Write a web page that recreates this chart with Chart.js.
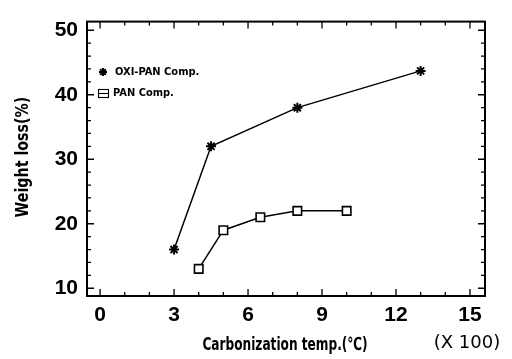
<!DOCTYPE html>
<html>
<head>
<meta charset="utf-8">
<script src="https://cdn.jsdelivr.net/npm/chart.js@4/dist/chart.umd.min.js"></script>
<style>
  html, body { margin: 0; padding: 0; background: #fff; }
  canvas { display: block; }
</style>
</head>
<body>
<canvas id="myChart" width="512" height="359"></canvas>
<script>
// data
const oxiTemps = [3, 4.5, 8, 13];
const oxiLoss = [16, 32, 38, 43.7];
const panTemps = [4, 5, 6.5, 8, 10];
const panLoss = [13, 19, 21, 22, 22];

const xTicks = [0, 3, 6, 9, 12, 15];
const yTicks = [10, 20, 30, 40, 50];
const seriesNames = ["OXI-PAN Comp.", "PAN Comp."];
const xTitle = "Carbonization temp.(℃)";
const yTitle = "Weight loss(%)";

const narrow = "'DejaVu Sans Condensed', 'DejaVu Sans', sans-serif";
const tickFont = "'Liberation Sans', Arial, sans-serif";

function toPoints(xs, ys) {
  return xs.map((x, i) => ({ x: x, y: ys[i] }));
}

// text squeezed sideways, the figure uses a condensed face
function squeezedText(ctx, text, x, y, font, sx, rot) {
  ctx.save();
  ctx.translate(x, y);
  ctx.rotate(rot);
  ctx.scale(sx, 1);
  ctx.font = font;
  ctx.textAlign = "center";
  ctx.textBaseline = "middle";
  ctx.fillStyle = "#000";
  ctx.fillText(text, 0, 0);
  ctx.restore();
}

// frame, inward ticks, legend, titles and the (X 100) note
const extras = {
  id: "extras",
  afterDraw(chart) {
    const ctx = chart.ctx;
    const a = chart.chartArea;
    const xs = chart.scales.x;
    const ys = chart.scales.y;
    ctx.save();
    ctx.strokeStyle = "#000";
    ctx.lineWidth = 1.3;
    ctx.beginPath();
    for (let v = 0; v <= 15; v++) {
      const px = xs.getPixelForValue(v);
      const len = v % 3 === 0 ? 7 : 4;
      ctx.moveTo(px, a.bottom); ctx.lineTo(px, a.bottom - len);
      ctx.moveTo(px, a.top); ctx.lineTo(px, a.top + len);
    }
    for (let v = 10; v <= 50; v += 2) {
      const py = ys.getPixelForValue(v);
      const len = v % 10 === 0 ? 7 : 4;
      ctx.moveTo(a.left, py); ctx.lineTo(a.left + len, py);
      ctx.moveTo(a.right, py); ctx.lineTo(a.right - len, py);
    }
    ctx.stroke();

    ctx.lineWidth = 2;
    ctx.strokeRect(a.left, a.top, a.right - a.left, a.bottom - a.top);

    // legend
    Chart.helpers.drawPoint(ctx, { pointStyle: "star", radius: 4, borderWidth: 1.2 }, 103, 72);
    ctx.lineWidth = 1.1;
    ctx.strokeRect(98.5, 89.5, 10, 8);
    ctx.beginPath();
    ctx.moveTo(98.5, 93.5); ctx.lineTo(108.5, 93.5);
    ctx.stroke();
    ctx.fillStyle = "#000";
    ctx.font = "bold 11px " + narrow;
    ctx.textBaseline = "middle";
    ctx.textAlign = "left";
    ctx.fillText(seriesNames[0], 115, 72);
    ctx.fillText(seriesNames[1], 113, 93);

    squeezedText(ctx, xTitle, 285, 345, "bold 18px " + narrow, 0.75, 0);
    squeezedText(ctx, yTitle, 23, 157, "bold 18px " + narrow, 0.88, -Math.PI / 2);

    ctx.font = "18px 'DejaVu Sans', sans-serif";
    ctx.textAlign = "center";
    ctx.textBaseline = "middle";
    ctx.fillText("(X 100)", 467, 343);
    ctx.restore();
  }
};

const ctx = document.getElementById("myChart").getContext("2d");
const myChart = new Chart(ctx, {
  type: "scatter",
  data: {
    datasets: [
      {
        label: seriesNames[0],
        data: toPoints(oxiTemps, oxiLoss),
        showLine: true,
        borderColor: "#000",
        borderWidth: 1.5,
        pointStyle: "star",
        pointRadius: 5,
        pointBorderWidth: 2,
        pointBorderColor: "#000",
        pointBackgroundColor: "#000"
      },
      {
        label: seriesNames[1],
        data: toPoints(panTemps, panLoss),
        showLine: true,
        borderColor: "#000",
        borderWidth: 1.5,
        pointStyle: "rect",
        pointRadius: 6,
        pointBorderWidth: 1.6,
        pointBorderColor: "#000",
        pointBackgroundColor: "#fff"
      }
    ]
  },
  options: {
    responsive: false,
    animation: false,
    devicePixelRatio: 1,
    layout: { padding: { top: 11, right: 27, left: 0, bottom: 0 } },
    plugins: { legend: { display: false }, tooltip: { enabled: false } },
    scales: {
      x: {
        type: "linear",
        min: -0.53,
        max: 15.61,
        afterBuildTicks: (s) => { s.ticks = xTicks.map(v => ({ value: v })); },
        afterFit: (s) => { s.height = 63; },
        grid: { display: false, drawTicks: false },
        border: { display: false },
        ticks: {
          color: "#000",
          padding: 7,
          font: { family: tickFont, size: 21, weight: "bold" }
        }
      },
      y: {
        type: "linear",
        min: 8.8,
        max: 51.34,
        afterBuildTicks: (s) => { s.ticks = yTicks.map(v => ({ value: v })); },
        afterFit: (s) => { s.width = 87; },
        grid: { display: false, drawTicks: false },
        border: { display: false },
        ticks: {
          color: "#000",
          padding: 9,
          font: { family: tickFont, size: 21, weight: "bold" }
        }
      }
    }
  },
  plugins: [extras]
});
</script>
</body>
</html>
